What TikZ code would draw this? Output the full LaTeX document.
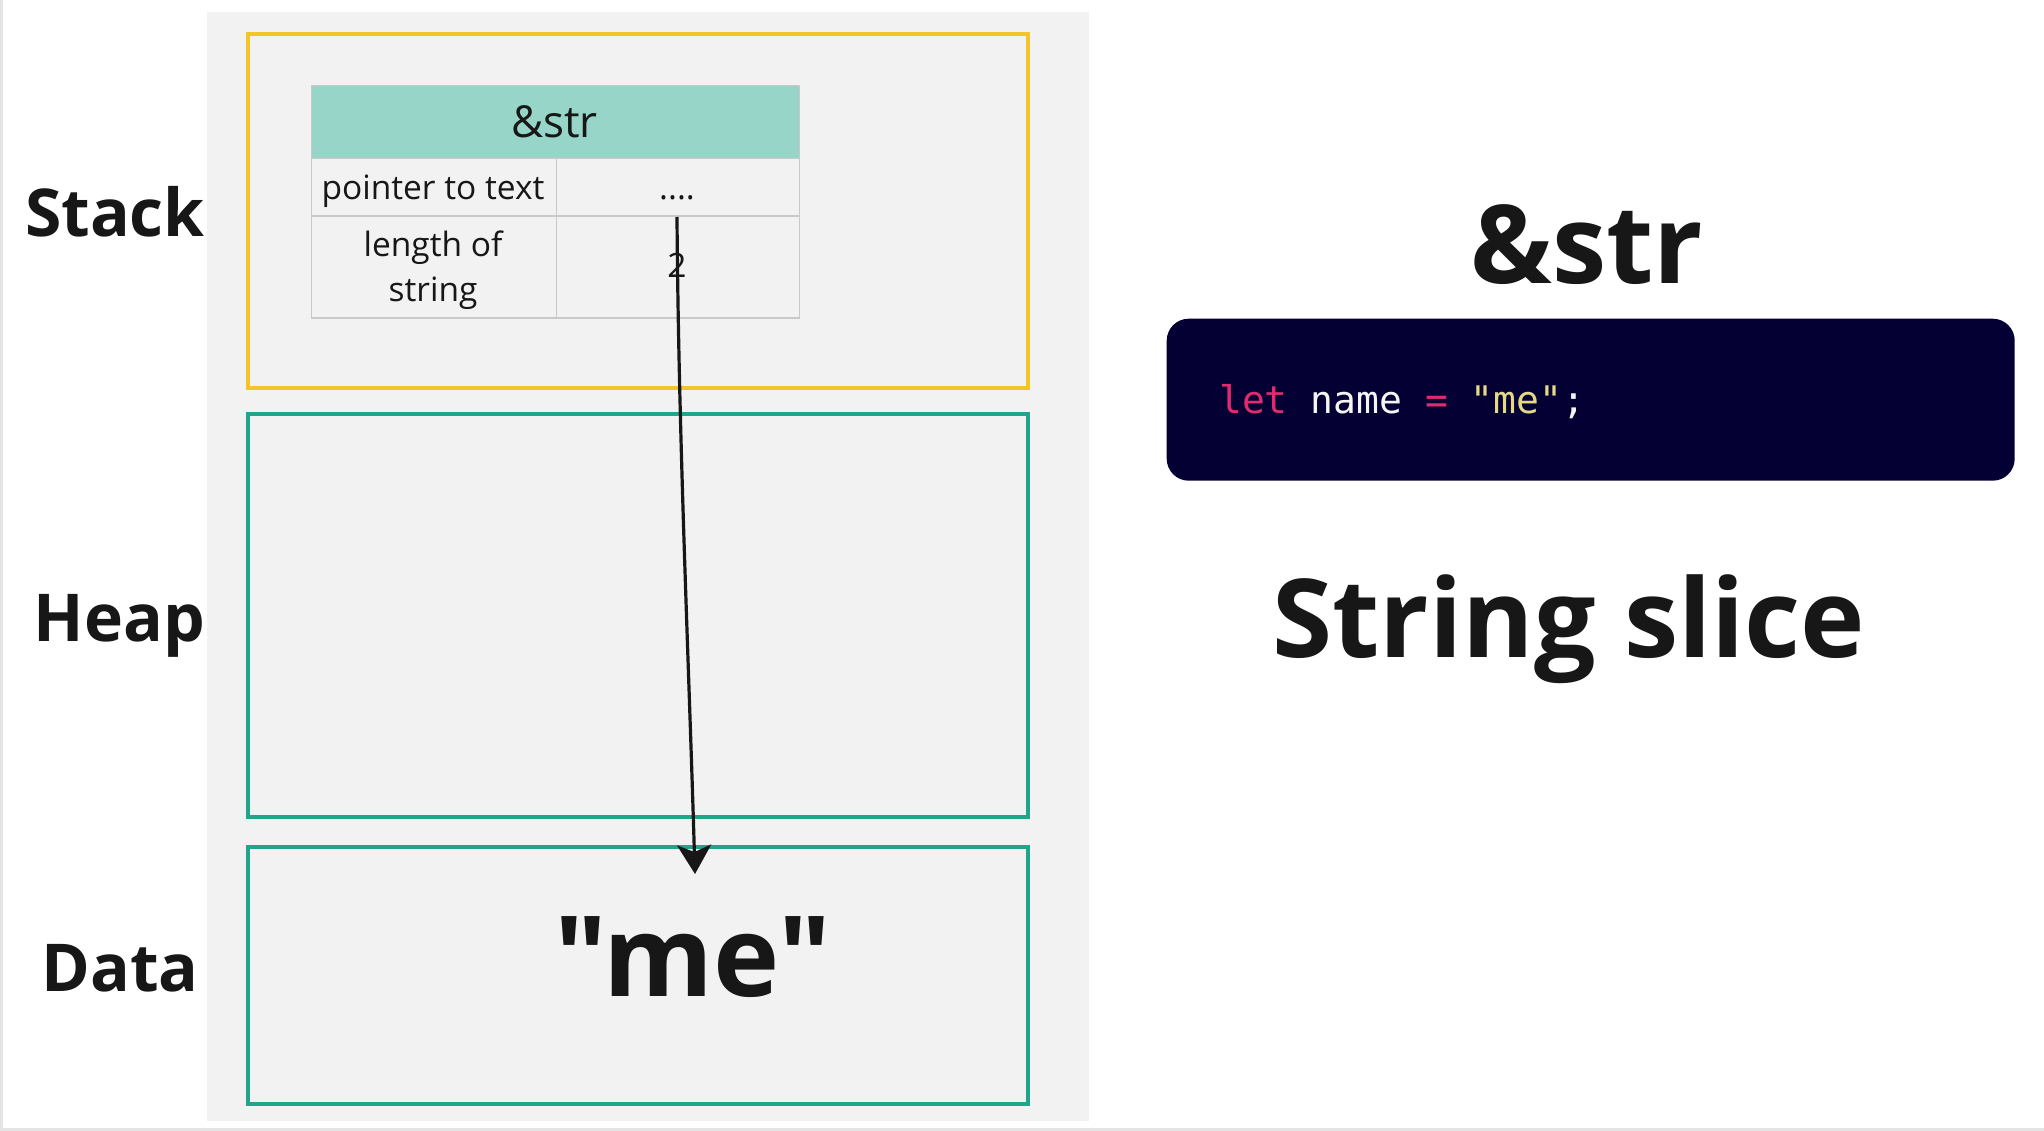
\documentclass[tikz,border=0pt]{standalone}
\usepackage{fontspec}
\setmainfont{Open Sans}
\setmonofont{DejaVu Sans Mono}
\newfontfamily\plainopen{Open Sans}
\usetikzlibrary{arrows.meta}
\definecolor{panelgray}{HTML}{F2F2F2}
\definecolor{framegray}{HTML}{E4E4E4}
\definecolor{stackyellow}{HTML}{F3C42C}
\definecolor{segteal}{HTML}{1FA68A}
\definecolor{headteal}{HTML}{96D5C7}
\definecolor{cellgray}{HTML}{C9C9C9}
\definecolor{inkdark}{HTML}{171717}
\definecolor{codebg}{HTML}{040033}
\definecolor{codepink}{HTML}{E22B6F}
\definecolor{codeyellow}{HTML}{E4DA86}
\definecolor{codewhite}{HTML}{F4F4F4}
\begin{document}
\begin{tikzpicture}[x=1pt,y=-1pt,
  segbox/.style={draw, line width=4pt, inner sep=0pt, anchor=north west},
  cellbox/.style={draw=cellgray, line width=1.5pt, fill=panelgray, inner sep=0pt, anchor=north west},
  seglabel/.style={inner sep=0pt, anchor=base east, text=inkdark, font=\bfseries\fontsize{66}{70}\selectfont},
  celltext/.style={inner sep=0pt, anchor=base, text=inkdark, font=\fontsize{33.5}{38}\selectfont},
  bigtitle/.style={inner sep=0pt, anchor=base, text=inkdark, font=\bfseries\fontsize{109}{120}\selectfont},
  arrowline/.style={draw=inkdark, line width=3.2pt, -{Stealth[length=29pt, width=34pt, inset=7pt]}}
]
\useasboundingbox (0,0) rectangle (2044,1131);
\fill[white] (0,0) rectangle (2044,1131);
\draw[framegray, line width=3pt] (1.5,0) -- (1.5,1129.5) -- (2044,1129.5);
% grey panel
\fill[panelgray] (207,12) rectangle (1089,1121);
% segments
\node[segbox, draw=stackyellow, minimum width=780pt, minimum height=353pt] (stackbox) at (246,32.5) {};
\node[segbox, draw=segteal, minimum width=780pt, minimum height=403pt] (heapbox) at (246,412) {};
\node[segbox, draw=segteal, minimum width=780pt, minimum height=257pt] (databox) at (246,844.5) {};
% labels
\node[seglabel] (stacklbl) at (205,237) {Stack};
\node[seglabel] (heaplbl) at (205,641) {Heap};
\node[seglabel] (datalbl) at (199,991) {Data};
% table
\node[cellbox, fill=headteal, minimum width=488pt, minimum height=73pt] (head) at (310.5,85) {};
\node[cellbox, minimum width=245pt, minimum height=57.5pt] (ptrkey) at (310.5,158) {};
\node[cellbox, minimum width=243pt, minimum height=57.5pt] (ptrval) at (555.5,158) {};
\node[cellbox, minimum width=245pt, minimum height=102pt] (lenkey) at (310.5,215.5) {};
\node[cellbox, minimum width=243pt, minimum height=102pt] (lenval) at (555.5,215.5) {};
\node[celltext, font=\fontsize{44}{50}\selectfont] (headtxt) at (554.5,137.5) {\&str};
\node[celltext] (ptrtxt) at (433,199.5) {pointer to text};
\node[celltext] (dotstxt) at (677,200) {....};
\node[celltext] (lentxt1) at (433,257) {length of};
\node[celltext] (lentxt2) at (433,302) {string};
\node[celltext] (numtxt) at (677,278) {2};
% data content
\node[inner sep=0pt, anchor=base, text=inkdark, font=\plainopen\bfseries\fontsize{112}{120}\selectfont] (metxt) at (693,996) {"me"};
% arrow
\coordinate (tip) at (695,874);
\draw[arrowline] (677,217) .. controls (678.5,435) and (688.5,653) .. (tip);
% right side
\node[bigtitle] (amptitle) at (1587,284) {\&str};
\node[fill=codebg, rounded corners=22pt, minimum width=848pt, minimum height=162pt, inner sep=0pt, anchor=north west] (codebox) at (1166.5,318.5) {};
\node[inner sep=0pt, anchor=base west, font=\ttfamily\fontsize{38}{40}\selectfont] (codetxt) at (1219,413)
  {\textcolor{codepink}{let}\ \textcolor{codewhite}{name}\ \textcolor{codepink}{=}\ \textcolor{codeyellow}{"me"}\textcolor{codewhite}{;}};
\node[bigtitle] (slicetitle) at (1569,657) {String slice};
\end{tikzpicture}
\end{document}
